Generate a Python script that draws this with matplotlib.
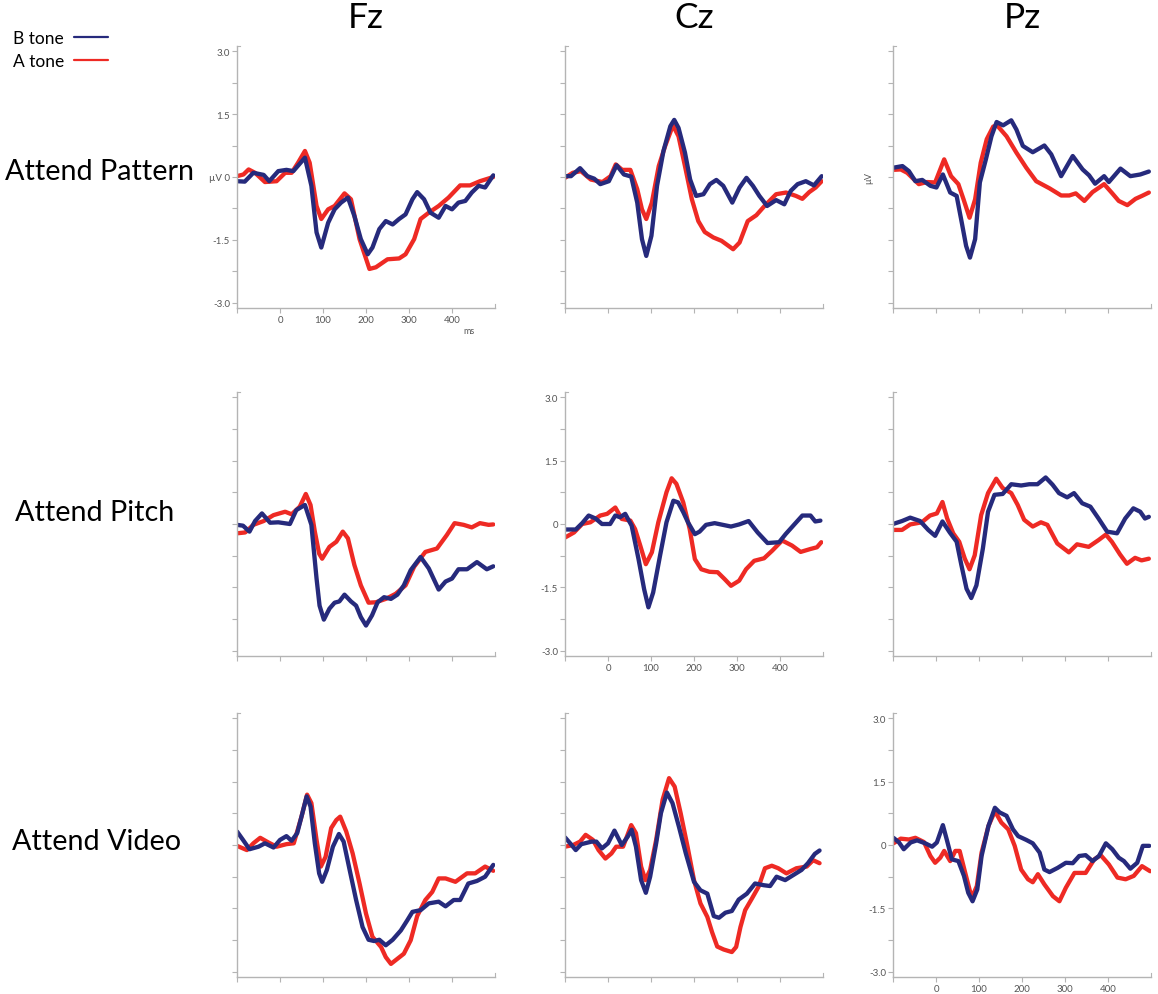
import matplotlib
matplotlib.use("Agg")
import matplotlib.pyplot as plt
from matplotlib.transforms import blended_transform_factory

plt.rcParams['font.family'] = ['Lato', 'DejaVu Sans']

# ---- data (ms, µV) ----
# Attend Pattern
pat_fz_b_ms = [-100, -82, -62, -38, -25, -4, 15, 31, 58, 73, 85, 96, 112, 127, 142, 158, 173, 188, 204, 215, 231, 246, 262, 277, 292, 308, 319, 335, 350, 369, 385, 400, 415, 431, 446, 462, 477, 496]
pat_fz_b_uv = [-0.1, -0.11, 0.1, 0.05, -0.1, 0.14, 0.17, 0.14, 0.46, -0.21, -1.32, -1.68, -1.09, -0.77, -0.61, -0.49, -0.93, -1.48, -1.84, -1.68, -1.24, -1.05, -1.13, -1.0, -0.89, -0.53, -0.36, -0.53, -0.85, -0.97, -0.69, -0.77, -0.61, -0.57, -0.37, -0.21, -0.25, 0.04]
pat_fz_a_ms = [-100, -85, -73, -58, -35, -8, 12, 27, 42, 58, 69, 85, 96, 112, 127, 150, 165, 185, 208, 223, 250, 277, 292, 312, 327, 346, 369, 392, 419, 442, 465, 496]
pat_fz_a_uv = [0.02, 0.06, 0.18, 0.1, -0.12, -0.1, 0.1, 0.1, 0.34, 0.62, 0.34, -0.69, -1.0, -0.77, -0.69, -0.39, -0.53, -1.48, -2.19, -2.15, -1.96, -1.94, -1.84, -1.48, -1.0, -0.85, -0.69, -0.49, -0.2, -0.2, -0.1, 0.0]

pat_cz_b_ms = [-100, -86, -65, -48, -32, -18, 2, 20, 37, 54, 68, 79, 89, 101, 114, 129, 145, 154, 164, 179, 191, 205, 222, 237, 252, 268, 289, 306, 322, 337, 352, 370, 391, 410, 425, 441, 460, 479, 497]
pat_cz_b_uv = [0.02, 0.02, 0.21, 0.02, -0.04, -0.17, -0.1, 0.28, 0.06, 0.01, -0.61, -1.48, -1.88, -1.4, -0.21, 0.62, 1.21, 1.36, 1.17, 0.58, -0.06, -0.45, -0.41, -0.17, -0.07, -0.21, -0.61, -0.25, -0.02, -0.21, -0.45, -0.69, -0.55, -0.65, -0.33, -0.17, -0.1, -0.2, 0.02]
pat_cz_a_ms = [-100, -82, -63, -40, -13, 6, 18, 33, 52, 68, 79, 89, 102, 118, 133, 151, 164, 179, 195, 210, 225, 245, 264, 291, 306, 325, 345, 364, 391, 414, 437, 452, 468, 483, 497]
pat_cz_a_uv = [-0.02, 0.1, 0.14, -0.06, -0.12, 0.02, 0.3, 0.17, 0.17, -0.29, -0.77, -1.0, -0.61, 0.26, 0.74, 1.23, 0.97, 0.26, -0.53, -1.05, -1.31, -1.44, -1.52, -1.72, -1.56, -1.05, -0.91, -0.69, -0.41, -0.37, -0.45, -0.52, -0.36, -0.25, -0.1]

pat_pz_b_ms = [-100, -78, -63, -48, -32, -13, 1, 16, 33, 48, 60, 70, 79, 91, 102, 116, 129, 141, 156, 175, 187, 202, 225, 252, 268, 291, 318, 341, 356, 370, 391, 402, 429, 452, 475, 495]
pat_pz_b_uv = [0.22, 0.26, 0.14, -0.1, -0.07, -0.21, -0.25, 0.06, -0.37, -0.45, -1.09, -1.64, -1.92, -1.48, -0.13, 0.42, 0.97, 1.31, 1.23, 1.35, 1.13, 0.74, 0.59, 0.75, 0.54, 0.02, 0.5, 0.18, 0.04, -0.16, 0.02, -0.12, 0.2, 0.02, 0.06, 0.13]
pat_pz_a_ms = [-100, -82, -67, -40, -21, -2, 19, 35, 52, 64, 78, 91, 104, 118, 133, 142, 164, 187, 210, 233, 264, 291, 310, 325, 345, 364, 391, 410, 425, 445, 464, 479, 495]
pat_pz_a_uv = [0.17, 0.18, 0.1, -0.17, -0.12, -0.13, 0.42, 0.02, -0.17, -0.53, -0.97, -0.53, 0.34, 0.9, 1.2, 1.23, 0.97, 0.58, 0.22, -0.1, -0.27, -0.44, -0.44, -0.39, -0.57, -0.36, -0.17, -0.39, -0.57, -0.67, -0.52, -0.45, -0.37]

# Attend Pitch
pit_fz_b_ms = [-100, -86, -71, -58, -42, -23, -4, 23, 38, 58, 73, 85, 92, 102, 115, 127, 138, 150, 165, 177, 188, 200, 214, 227, 242, 258, 273, 288, 304, 327, 346, 369, 385, 400, 415, 435, 458, 481, 496]
pit_fz_b_uv = [-0.02, -0.04, -0.18, 0.07, 0.25, 0.03, 0.04, 0.0, 0.33, 0.45, -0.02, -1.29, -1.93, -2.26, -2.0, -1.86, -1.83, -1.67, -1.83, -1.93, -2.2, -2.4, -2.16, -1.85, -1.73, -1.77, -1.67, -1.45, -1.09, -0.78, -1.05, -1.55, -1.36, -1.29, -1.07, -1.07, -0.9, -1.07, -1.0]
pit_fz_a_ms = [-100, -81, -62, -38, -15, 12, 27, 46, 60, 71, 81, 91, 98, 115, 131, 146, 158, 173, 188, 206, 223, 246, 269, 292, 312, 338, 365, 388, 406, 427, 446, 465, 485, 496]
pit_fz_a_uv = [-0.22, -0.2, -0.02, 0.07, 0.21, 0.29, 0.23, 0.41, 0.71, 0.45, -0.18, -0.7, -0.82, -0.54, -0.42, -0.18, -0.34, -0.97, -1.45, -1.86, -1.85, -1.77, -1.65, -1.45, -1.01, -0.66, -0.58, -0.26, 0.02, -0.02, -0.08, 0.02, -0.02, -0.01]

pit_cz_b_ms = [-100, -75, -60, -45, -29, -14, 5, 17, 28, 40, 55, 71, 84, 94, 105, 121, 136, 152, 163, 175, 186, 202, 213, 228, 248, 267, 286, 305, 327, 348, 371, 398, 413, 436, 452, 471, 482, 494]
pit_cz_b_uv = [-0.13, -0.13, 0.02, 0.2, 0.13, 0.0, 0.0, 0.2, 0.16, 0.24, -0.04, -0.83, -1.54, -1.97, -1.62, -0.75, 0.04, 0.55, 0.51, 0.28, 0.04, -0.24, -0.18, -0.02, 0.02, -0.02, -0.06, -0.01, 0.07, -0.2, -0.45, -0.43, -0.24, 0.02, 0.2, 0.2, 0.06, 0.08]
pit_cz_a_ms = [-100, -79, -60, -41, -18, -2, 17, 32, 52, 63, 75, 88, 102, 117, 136, 148, 159, 175, 190, 202, 217, 236, 255, 271, 286, 305, 321, 340, 363, 382, 405, 428, 448, 471, 486, 496]
pit_cz_a_uv = [-0.32, -0.2, 0.0, 0.04, 0.2, 0.24, 0.39, 0.12, 0.08, -0.12, -0.51, -0.95, -0.67, 0.04, 0.75, 1.08, 0.95, 0.51, -0.12, -0.83, -1.07, -1.13, -1.14, -1.3, -1.46, -1.34, -1.07, -0.87, -0.81, -0.63, -0.39, -0.51, -0.66, -0.59, -0.55, -0.43]

pit_pz_b_ms = [-100, -79, -60, -37, -18, -2, 15, 32, 48, 59, 71, 82, 94, 109, 121, 136, 155, 175, 198, 217, 236, 255, 271, 286, 305, 321, 340, 359, 378, 398, 421, 440, 459, 475, 486, 495]
pit_pz_b_uv = [0.0, 0.07, 0.15, 0.07, -0.14, -0.28, 0.06, -0.2, -0.42, -0.97, -1.53, -1.75, -1.45, -0.58, 0.29, 0.69, 0.71, 0.94, 0.91, 0.94, 0.94, 1.1, 0.93, 0.73, 0.63, 0.73, 0.49, 0.41, 0.13, -0.18, -0.22, 0.13, 0.37, 0.29, 0.13, 0.17]
pit_pz_a_ms = [-100, -79, -60, -33, -14, 2, 15, 26, 40, 54, 67, 78, 90, 105, 121, 140, 155, 175, 190, 205, 225, 244, 259, 282, 309, 328, 355, 378, 395, 409, 428, 444, 463, 478, 495]
pit_pz_a_uv = [-0.14, -0.14, -0.01, 0.04, 0.2, 0.25, 0.52, 0.13, -0.22, -0.42, -0.82, -1.07, -0.74, 0.21, 0.73, 1.07, 0.85, 0.73, 0.45, 0.1, -0.06, 0.04, -0.02, -0.46, -0.67, -0.48, -0.54, -0.38, -0.25, -0.42, -0.72, -0.94, -0.8, -0.86, -0.82]

# Attend Video
vid_fz_b_ms = [-100, -86, -71, -50, -35, -15, 0, 15, 27, 40, 52, 62, 71, 81, 91, 98, 109, 123, 137, 148, 162, 177, 192, 206, 219, 231, 246, 262, 281, 296, 308, 327, 346, 369, 385, 404, 419, 438, 458, 477, 496]
vid_fz_b_uv = [0.32, 0.12, -0.1, -0.04, 0.04, -0.06, 0.12, 0.21, 0.1, 0.28, 0.75, 1.15, 0.91, 0.04, -0.67, -0.87, -0.59, -0.04, 0.26, 0.08, -0.59, -1.3, -1.94, -2.24, -2.27, -2.24, -2.37, -2.24, -2.02, -1.78, -1.58, -1.54, -1.38, -1.34, -1.45, -1.3, -1.3, -0.91, -0.85, -0.75, -0.47]
vid_fz_a_ms = [-100, -77, -62, -46, -27, -8, 15, 32, 50, 63, 73, 85, 95, 106, 119, 131, 140, 154, 169, 185, 200, 215, 235, 246, 258, 273, 288, 304, 319, 338, 354, 369, 385, 408, 435, 454, 477, 496]
vid_fz_a_uv = [-0.02, -0.12, 0.04, 0.17, 0.06, -0.04, 0.02, 0.04, 0.67, 1.19, 0.99, 0.12, -0.51, -0.28, 0.4, 0.59, 0.67, 0.32, -0.2, -0.91, -1.62, -2.17, -2.41, -2.65, -2.81, -2.69, -2.57, -2.25, -1.68, -1.3, -1.11, -0.79, -0.79, -0.87, -0.67, -0.67, -0.51, -0.61]

vid_cz_b_ms = [-100, -88, -75, -62, -38, -27, -14, 0, 15, 32, 46, 55, 65, 77, 88, 98, 112, 123, 137, 150, 165, 181, 200, 215, 231, 246, 258, 273, 288, 304, 323, 342, 362, 377, 392, 412, 431, 450, 465, 481, 492]
vid_cz_b_uv = [0.18, 0.04, -0.12, 0.02, 0.08, 0.08, -0.08, 0.04, 0.34, 0.0, 0.2, 0.36, -0.04, -0.83, -1.13, -0.75, 0.04, 0.75, 1.24, 0.99, 0.43, -0.2, -0.87, -1.07, -1.15, -1.68, -1.72, -1.6, -1.56, -1.29, -1.15, -0.91, -0.95, -0.97, -0.75, -0.83, -0.71, -0.59, -0.43, -0.21, -0.13]
vid_cz_a_ms = [-100, -81, -65, -52, -35, -22, -6, 8, 19, 35, 54, 65, 77, 87, 98, 112, 127, 142, 155, 169, 185, 200, 215, 231, 242, 254, 269, 288, 298, 308, 319, 335, 350, 365, 381, 396, 415, 438, 462, 477, 492]
vid_cz_a_uv = [-0.04, 0.0, 0.08, 0.24, 0.12, -0.12, -0.32, -0.2, -0.04, -0.04, 0.47, 0.28, -0.51, -0.83, -0.59, 0.12, 1.07, 1.58, 1.38, 0.75, -0.04, -0.83, -1.38, -1.7, -2.06, -2.4, -2.47, -2.53, -2.41, -1.94, -1.54, -1.26, -0.99, -0.55, -0.49, -0.55, -0.67, -0.55, -0.51, -0.36, -0.43]

vid_pz_b_ms = [-99, -86, -75, -59, -44, -25, -9, 2, 16, 25, 37, 52, 65, 75, 85, 96, 106, 122, 137, 148, 164, 179, 191, 210, 225, 241, 252, 264, 283, 302, 318, 333, 348, 364, 379, 395, 410, 425, 437, 452, 468, 481, 496]
vid_pz_b_uv = [0.17, 0.06, -0.1, 0.06, 0.11, 0.04, -0.04, 0.06, 0.47, 0.13, -0.34, -0.38, -0.73, -1.13, -1.33, -1.05, -0.26, 0.45, 0.88, 0.77, 0.69, 0.37, 0.21, 0.12, 0.04, -0.18, -0.58, -0.64, -0.54, -0.42, -0.43, -0.26, -0.24, -0.38, -0.26, 0.04, -0.1, -0.3, -0.38, -0.56, -0.42, -0.02, -0.02]
vid_pz_a_ms = [-99, -82, -63, -48, -28, -13, -2, 10, 19, 33, 45, 55, 68, 83, 95, 106, 122, 137, 152, 168, 183, 198, 214, 225, 237, 252, 272, 287, 302, 322, 348, 368, 383, 402, 422, 441, 460, 479, 498]
vid_pz_a_uv = [0.04, 0.15, 0.13, 0.17, 0.07, -0.26, -0.42, -0.3, -0.14, -0.38, -0.14, -0.14, -0.66, -1.25, -0.97, -0.18, 0.45, 0.8, 0.53, 0.37, -0.02, -0.58, -0.81, -0.88, -0.69, -0.93, -1.21, -1.33, -1.01, -0.66, -0.66, -0.34, -0.24, -0.46, -0.77, -0.81, -0.73, -0.5, -0.62]

electrodes = ['Fz', 'Cz', 'Pz']
conditions = ['Attend Pattern', 'Attend Pitch', 'Attend Video']
legend_labels = ['B tone', 'A tone']
x_ticks = [-100, 0, 100, 200, 300, 400]
x_ticklabels = ['', '0', '100', '200', '300', '400']
y_ticks = [3.0, 2.25, 1.5, 0.75, 0.0, -0.75, -1.5, -2.25, -3.0]
y_ticklabels = ['3.0', '', '1.5', '', '0', '', '-1.5', '', '-3.0']

waves = [
    [(pat_fz_b_ms, pat_fz_b_uv, pat_fz_a_ms, pat_fz_a_uv),
     (pat_cz_b_ms, pat_cz_b_uv, pat_cz_a_ms, pat_cz_a_uv),
     (pat_pz_b_ms, pat_pz_b_uv, pat_pz_a_ms, pat_pz_a_uv)],
    [(pit_fz_b_ms, pit_fz_b_uv, pit_fz_a_ms, pit_fz_a_uv),
     (pit_cz_b_ms, pit_cz_b_uv, pit_cz_a_ms, pit_cz_a_uv),
     (pit_pz_b_ms, pit_pz_b_uv, pit_pz_a_ms, pit_pz_a_uv)],
    [(vid_fz_b_ms, vid_fz_b_uv, vid_fz_a_ms, vid_fz_a_uv),
     (vid_cz_b_ms, vid_cz_b_uv, vid_cz_a_ms, vid_cz_a_uv),
     (vid_pz_b_ms, vid_pz_b_uv, vid_pz_a_ms, vid_pz_a_uv)],
]

blue = '#262a7c'
red = '#ee2a24'
axis_grey = '#b4b4b4'
label_grey = '#555555'

W, H = 1158, 995
fig = plt.figure(figsize=(W / 100, H / 100), dpi=100)

# axes boxes in pixels (left, top, right, bottom)
col_left = [237, 565, 893]
row_top = [47, 393, 714]
row_bot = [309, 657, 978]
ax_w = 258

# panels that carry tick labels
labelled = {(0, 0), (1, 1), (2, 2)}

axes = {}
for r in range(3):
    for c in range(3):
        ax = fig.add_axes([col_left[c] / W, 1 - row_bot[r] / H, ax_w / W, (row_bot[r] - row_top[r]) / H])
        axes[(r, c)] = ax
        b_ms, b_uv, a_ms, a_uv = waves[r][c]
        ln_a, = ax.plot(a_ms, a_uv, color=red, lw=3.1, solid_capstyle='round', solid_joinstyle='round')
        ln_b, = ax.plot(b_ms, b_uv, color=blue, lw=3.1, solid_capstyle='round', solid_joinstyle='round')
        ax.set_xlim(-100, 500)
        ax.set_ylim(-3.12, 3.12)
        for s in ['top', 'right']:
            ax.spines[s].set_visible(False)
        for s in ['left', 'bottom']:
            ax.spines[s].set_color(axis_grey)
            ax.spines[s].set_linewidth(1.0)
        ax.set_xticks(x_ticks)
        ax.set_yticks(y_ticks)
        ax.tick_params(axis='both', direction='out', length=3.5, width=0.8, color=axis_grey,
                       labelsize=7, labelcolor=label_grey, pad=1.5)
        if (r, c) in labelled:
            ax.set_xticklabels(x_ticklabels)
            ylabs = list(y_ticklabels)
            if (r, c) == (0, 0):
                ylabs[4] = 'µV 0'
            ax.set_yticklabels(ylabs)
        else:
            ax.set_xticklabels([])
            ax.set_yticklabels([])
        # small end caps on the axis lines
        ax.plot([0, 0.013], [1, 1], transform=ax.transAxes, color=axis_grey, lw=0.8, clip_on=False)
        ax.plot([1, 1], [0, 0.015], transform=ax.transAxes, color=axis_grey, lw=0.8, clip_on=False)
        if (r, c) == (0, 0):
            legend_handles = [ln_b, ln_a]

ax = axes[(0, 0)]
ax.text(440, -3.55, 'ms', fontsize=6.5, color=label_grey, ha='center', va='top')
ax = axes[(0, 2)]
ax.text(-0.095, 0, 'µV', transform=blended_transform_factory(ax.transAxes, ax.transData),
        rotation=90, fontsize=6.5, color=label_grey, ha='center', va='center')

for c, name in enumerate(electrodes):
    fig.text((col_left[c] + ax_w / 2) / W, 1 - 18 / H, name, fontsize=25.5, ha='center', va='center')

row_text_x = [5, 15, 12]
row_text_y = [172, 513, 842]
for r, name in enumerate(conditions):
    fig.text(row_text_x[r] / W, 1 - row_text_y[r] / H, name, fontsize=20.7, ha='left', va='center')

leg = fig.legend(legend_handles, legend_labels, loc='upper left', bbox_to_anchor=(0.0005, 0.981),
                 frameon=False, markerfirst=False, fontsize=12.5, handlelength=2.0,
                 handletextpad=0.55, labelspacing=0.42, borderaxespad=0.3)
for h in leg.get_lines():
    h.set_linewidth(1.6)

fig.savefig('out.png', dpi=100)
